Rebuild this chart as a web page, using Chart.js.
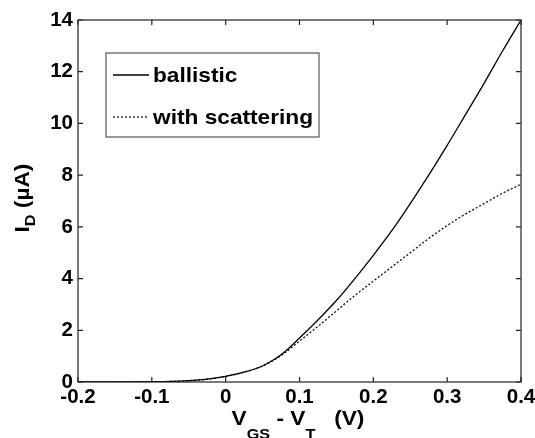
<!DOCTYPE html>
<html>
<head>
<meta charset="utf-8">
<script src="https://cdn.jsdelivr.net/npm/chart.js@4.4.1/dist/chart.umd.min.js"></script>
<style>
  html, body { margin: 0; padding: 0; background: #fff; }
  canvas { display: block; }
</style>
</head>
<body>
<canvas id="chart" width="535" height="438"></canvas>
<script>
// datos (V_GS - V_T en V, I_D en µA)
const vgs = [-0.2, -0.15, -0.1, -0.075, -0.05, -0.025, 0, 0.025, 0.05, 0.075, 0.1, 0.125,
             0.15, 0.175, 0.2, 0.225, 0.25, 0.275, 0.3, 0.325, 0.35, 0.375, 0.4];
const ballistic = [0, 0.002, 0.01, 0.02, 0.05, 0.11, 0.22, 0.38, 0.62, 1.05, 1.7, 2.4,
                   3.15, 4.0, 4.9, 5.85, 6.9, 8.0, 9.15, 10.35, 11.55, 12.8, 14.0];
const scattering = [0, 0.002, 0.01, 0.02, 0.05, 0.11, 0.22, 0.38, 0.62, 1.02, 1.58, 2.15,
                    2.75, 3.35, 3.9, 4.45, 5.0, 5.55, 6.05, 6.5, 6.9, 7.3, 7.65];
const seriesNames = ['ballistic', 'with scattering'];

const xTicks = [-0.2, -0.1, 0, 0.1, 0.2, 0.3, 0.4];
const xTickLabels = ['-0.2', '-0.1', '0', '0.1', '0.2', '0.3', '0.4'];
const yTicks = [0, 2, 4, 6, 8, 10, 12, 14];
const yTickLabels = ['0', '2', '4', '6', '8', '10', '12', '14'];

const FONT = '"Liberation Sans", Arial, sans-serif';
const HSCALE = 1.08;

// texto con subíndices: parts = [{t, sub}]
function drawRich(ctx, parts, x, y, size, subSize, subShift, align) {
  const widths = parts.map(p => {
    ctx.font = 'bold ' + (p.sub ? subSize : size) + 'px ' + FONT;
    return ctx.measureText(p.t).width;
  });
  const total = widths.reduce((a, b) => a + b, 0);
  ctx.save();
  ctx.translate(x, y);
  ctx.scale(HSCALE, 1);
  let cx = align === 'center' ? -total / 2 : 0;
  ctx.textAlign = 'left';
  ctx.textBaseline = 'alphabetic';
  ctx.fillStyle = '#000';
  parts.forEach((p, i) => {
    ctx.font = 'bold ' + (p.sub ? subSize : size) + 'px ' + FONT;
    ctx.fillText(p.t, cx, p.sub ? subShift : 0);
    cx += widths[i];
  });
  ctx.restore();
}

const framePlugin = {
  id: 'frame',
  afterDatasetsDraw(chart) {
    const ctx = chart.ctx;
    const a = chart.chartArea;
    const xs = chart.scales.x;
    const ys = chart.scales.y;
    ctx.save();
    ctx.strokeStyle = '#222';
    ctx.lineWidth = 1.2;
    ctx.strokeRect(a.left, a.top, a.right - a.left, a.bottom - a.top);
    const tl = 5;
    ctx.beginPath();
    xTicks.forEach(v => {
      const px = xs.getPixelForValue(v);
      ctx.moveTo(px, a.bottom); ctx.lineTo(px, a.bottom - tl);
      ctx.moveTo(px, a.top); ctx.lineTo(px, a.top + tl);
    });
    yTicks.forEach(v => {
      const py = ys.getPixelForValue(v);
      ctx.moveTo(a.left, py); ctx.lineTo(a.left + tl, py);
      ctx.moveTo(a.right, py); ctx.lineTo(a.right - tl, py);
    });
    ctx.stroke();

    // leyenda
    const lx = 106, ly = 53, lw = 213, lh = 84;
    ctx.fillStyle = '#fff';
    ctx.fillRect(lx, ly, lw, lh);
    ctx.strokeStyle = '#555';
    ctx.lineWidth = 1.2;
    ctx.strokeRect(lx, ly, lw, lh);
    const rows = [75, 117];
    chart.data.datasets.forEach((ds, i) => {
      ctx.beginPath();
      ctx.strokeStyle = ds.borderColor;
      ctx.lineWidth = ds.borderWidth;
      ctx.setLineDash(ds.borderDash || []);
      ctx.moveTo(113, rows[i]);
      ctx.lineTo(149, rows[i]);
      ctx.stroke();
      ctx.setLineDash([]);
      drawRich(ctx, [{ t: ds.label }], 153, rows[i] + 7, 21, 15, 0, 'left');
    });
    ctx.restore();
  },
  afterDraw(chart) {
    const ctx = chart.ctx;
    // título eje x
    drawRich(ctx, [{ t: 'V' }, { t: 'GS', sub: true }, { t: ' - V' }, { t: 'T', sub: true }, { t: '   (V)' }],
      298, 425, 21, 15, 14, 'center');
    // título eje y
    ctx.save();
    ctx.translate(29, 198);
    ctx.rotate(-Math.PI / 2);
    drawRich(ctx, [{ t: 'I' }, { t: 'D', sub: true }, { t: ' (\u00b5A)' }], 0, 0, 21, 15, 6, 'center');
    ctx.restore();
  }
};

new Chart(document.getElementById('chart'), {
  type: 'line',
  data: {
    datasets: [
      {
        label: seriesNames[0],
        data: vgs.map((x, i) => ({ x: x, y: ballistic[i] })),
        borderColor: '#000',
        borderWidth: 1.3,
        pointRadius: 0,
        cubicInterpolationMode: 'monotone',
        fill: false
      },
      {
        label: seriesNames[1],
        data: vgs.map((x, i) => ({ x: x, y: scattering[i] })),
        borderColor: '#111',
        borderWidth: 1.3,
        borderDash: [2, 2],
        pointRadius: 0,
        cubicInterpolationMode: 'monotone',
        fill: false
      }
    ]
  },
  options: {
    responsive: false,
    animation: false,
    devicePixelRatio: 1,
    layout: { padding: { left: 20, right: 14, top: 20, bottom: 0 } },
    plugins: {
      legend: { display: false },
      tooltip: { enabled: false }
    },
    scales: {
      x: {
        type: 'linear',
        min: -0.2,
        max: 0.4,
        afterBuildTicks: s => { s.ticks = xTicks.map(v => ({ value: v })); },
        afterFit: s => { s.height = 56; s.paddingLeft = 0; s.paddingRight = 0; },
        grid: { display: false, drawTicks: false },
        border: { display: false },
        ticks: {
          color: '#000',
          padding: 3,
          maxRotation: 0,
          autoSkip: false,
          font: { family: FONT, size: 20.5, weight: 'bold' },
          callback: (v, i) => xTickLabels[i]
        }
      },
      y: {
        min: 0,
        max: 14,
        afterBuildTicks: s => { s.ticks = yTicks.map(v => ({ value: v })); },
        afterFit: s => { s.width = 58; s.paddingTop = 0; s.paddingBottom = 0; },
        grid: { display: false, drawTicks: false },
        border: { display: false },
        ticks: {
          color: '#000',
          padding: 5,
          autoSkip: false,
          font: { family: FONT, size: 20.5, weight: 'bold' },
          callback: (v, i) => yTickLabels[i]
        }
      }
    }
  },
  plugins: [framePlugin]
});
</script>
</body>
</html>
